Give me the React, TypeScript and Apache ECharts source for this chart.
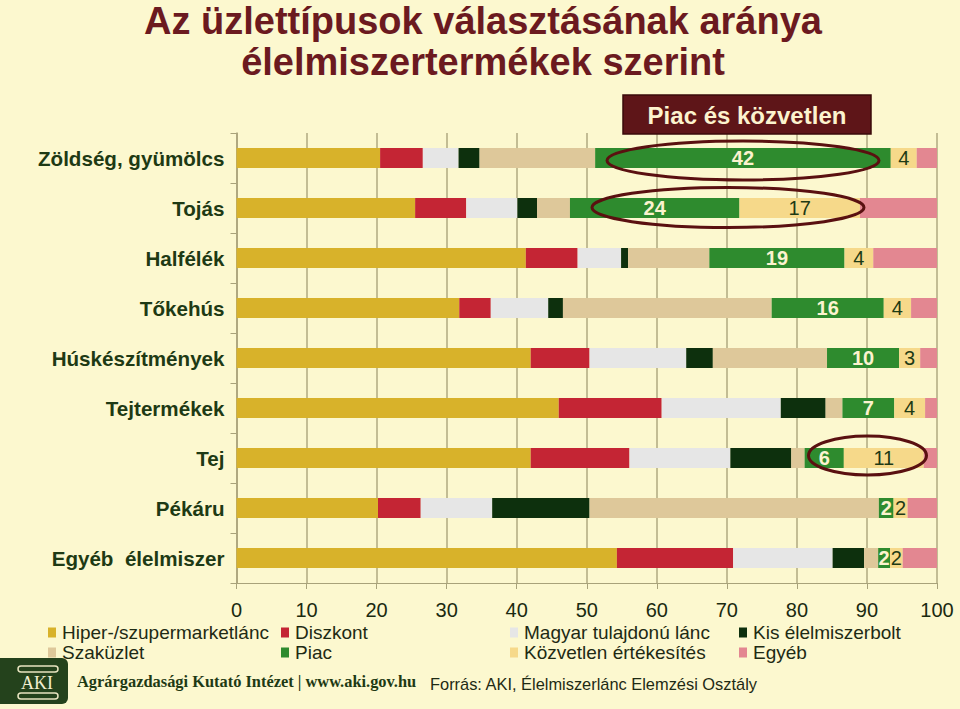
import React, { useEffect, useRef } from "react";
import * as echarts from "echarts";

const categories = [
  "Zöldség, gyümölcs",
  "Tojás",
  "Halfélék",
  "Tőkehús",
  "Húskészítmények",
  "Tejtermékek",
  "Tej",
  "Pékáru",
  "Egyéb  élelmiszer",
];

const seriesNames = [
  "Hiper-/szupermarketlánc",
  "Diszkont",
  "Magyar tulajdonú lánc",
  "Kis élelmiszerbolt",
  "Szaküzlet",
  "Piac",
  "Közvetlen értékesítés",
  "Egyéb",
];

const hiper = [20.5, 25.5, 41.3, 31.8, 42.0, 46.0, 42.0, 20.2, 54.3];
const diszkont = [6.1, 7.3, 7.4, 4.5, 8.4, 14.7, 14.1, 6.1, 16.6];
const magyar = [5.1, 7.3, 6.2, 8.2, 13.8, 17.0, 14.4, 10.2, 14.2];
const kis = [3.0, 2.8, 1.0, 2.1, 3.8, 6.4, 8.7, 13.9, 4.5];
const szakuzlet = [16.5, 4.7, 11.6, 29.8, 16.3, 2.4, 1.9, 41.3, 2.0];
const piac = [42.2, 24.2, 19.3, 16.0, 10.3, 7.4, 5.6, 2.1, 1.7];
const kozvetlen = [3.7, 17.2, 4.1, 3.9, 3.0, 4.4, 11.4, 2.0, 1.8];
const egyeb = [2.9, 11.0, 9.1, 3.7, 2.4, 1.7, 1.9, 4.2, 4.9];

const xTicks = [0, 10, 20, 30, 40, 50, 60, 70, 80, 90, 100];

const colors = [
  "#D8B22A",
  "#C42534",
  "#E6E6E6",
  "#0D300D",
  "#DEC89A",
  "#2E8B2E",
  "#F6D98A",
  "#E38791",
];

const BG = "#FCF8CF";
const DARK = "#1E3A14";
const MAROON = "#6B1A1F";
const SANS = "Liberation Sans, Arial, sans-serif";

export default function App() {
  const ref = useRef<HTMLDivElement>(null);
  useEffect(() => {
    if (!ref.current) return;
    const chart = echarts.init(ref.current, undefined, { renderer: "svg" });
    const values = [hiper, diszkont, magyar, kis, szakuzlet, piac, kozvetlen, egyeb];
    const series = seriesNames.map((name, i) => {
      const s: any = {
        name,
        type: "bar",
        stack: "total",
        data: values[i],
        barCategoryGap: "60%",
        itemStyle: { color: colors[i] },
        emphasis: { disabled: true },
        label: { show: false },
      };
      if (i === 5) {
        s.label = {
          show: true,
          position: "inside",
          color: "#FCF3CE",
          fontSize: 20,
          fontWeight: "bold",
          fontFamily: SANS,
          formatter: (p: any) => String(Math.round(p.value)),
        };
      }
      if (i === 6) {
        s.label = {
          show: true,
          position: "inside",
          color: DARK,
          fontSize: 20,
          fontFamily: SANS,
          formatter: (p: any) => String(Math.round(p.value)),
        };
      }
      return s;
    });

    const legendCols = [
      { left: 48, items: [seriesNames[0], seriesNames[4]] },
      { left: 281, items: [seriesNames[1], seriesNames[5]] },
      { left: 510, items: [seriesNames[2], seriesNames[6]] },
      { left: 739, items: [seriesNames[3], seriesNames[7]] },
    ];

    chart.setOption({
      animation: false,
      backgroundColor: BG,
      textStyle: { fontFamily: SANS },
      title: {
        text: "Az üzlettípusok választásának aránya\nélelmiszertermékek szerint",
        left: 483,
        textAlign: "center",
        top: 0,
        padding: 0,
        textStyle: {
          fontSize: 38,
          fontWeight: "bold",
          color: MAROON,
          lineHeight: 41,
          fontFamily: SANS,
        },
      },
      legend: legendCols.map((c) => ({
        orient: "vertical",
        left: c.left,
        top: 623,
        padding: 0,
        itemWidth: 8,
        itemHeight: 10,
        itemGap: 1,
        icon: "rect",
        selectedMode: false,
        data: c.items,
        textStyle: {
          fontSize: 19,
          color: "#1E2A14",
          padding: [0, 0, 0, 1],
          fontFamily: SANS,
        },
      })),
      grid: { left: 236.5, right: 23, top: 133, bottom: 126, containLabel: false },
      xAxis: {
        type: "value",
        min: xTicks[0],
        max: xTicks[xTicks.length - 1],
        interval: 10,
        axisLine: { show: true, lineStyle: { color: "#A8A27A", width: 1 } },
        axisTick: { show: true, length: 6, lineStyle: { color: "#A8A27A" } },
        splitLine: { show: true, lineStyle: { color: "#B0AA80", width: 1.5 } },
        axisLabel: { fontSize: 20, color: "#1A2A10", margin: 17 },
      },
      yAxis: {
        type: "category",
        data: categories,
        inverse: true,
        axisLine: { show: true, lineStyle: { color: "#A8A27A", width: 1.5 } },
        axisTick: { show: true, length: 6, lineStyle: { color: "#A8A27A" } },
        axisLabel: {
          fontSize: 20.6,
          fontWeight: "bold",
          color: DARK,
          margin: 12,
        },
      },
      series,
      graphic: [
        {
          type: "rect",
          shape: { x: 623, y: 95, width: 248, height: 39 },
          style: { fill: "#5E1518", stroke: "#3A0A0A", lineWidth: 1.5 },
          z: 100,
        },
        {
          type: "text",
          x: 747,
          y: 115,
          style: {
            text: "Piac és közvetlen",
            fill: "#FCF3CE",
            fontSize: 24,
            fontWeight: "bold",
            fontFamily: SANS,
            textAlign: "center",
            textVerticalAlign: "middle",
          },
          z: 101,
        },
        {
          type: "ellipse",
          shape: { cx: 743, cy: 160.5, rx: 136, ry: 19.5 },
          style: { fill: "none", stroke: "#5A1010", lineWidth: 3 },
          z: 100,
        },
        {
          type: "ellipse",
          shape: { cx: 728, cy: 207.5, rx: 136, ry: 20 },
          style: { fill: "none", stroke: "#5A1010", lineWidth: 3 },
          z: 100,
        },
        {
          type: "ellipse",
          shape: { cx: 867.5, cy: 455.5, rx: 59, ry: 19.5 },
          style: { fill: "none", stroke: "#5A1010", lineWidth: 3 },
          z: 100,
        },
        {
          type: "rect",
          shape: { x: -8, y: 658, width: 76, height: 46, r: 6 },
          style: { fill: "#24421C" },
          z: 100,
        },
        {
          type: "rect",
          shape: { x: 18, y: 666, width: 40, height: 6, r: 3 },
          style: { fill: "none", stroke: "#E8E4C0", lineWidth: 1.5 },
          z: 101,
        },
        {
          type: "text",
          x: 37,
          y: 683,
          style: {
            text: "AKI",
            fill: "#F2EED0",
            fontSize: 18,
            fontFamily: "Liberation Serif, DejaVu Serif, serif",
            textAlign: "center",
            textVerticalAlign: "middle",
          },
          z: 101,
        },
        {
          type: "rect",
          shape: { x: 18, y: 693, width: 40, height: 6, r: 3 },
          style: { fill: "none", stroke: "#E8E4C0", lineWidth: 1.5 },
          z: 101,
        },
        {
          type: "text",
          x: 77,
          y: 681,
          style: {
            text: "Agrárgazdasági Kutató Intézet | www.aki.gov.hu",
            fill: "#1E3A14",
            fontSize: 16.4,
            fontWeight: "bold",
            fontFamily: "Liberation Serif, DejaVu Serif, serif",
            textVerticalAlign: "middle",
          },
          z: 101,
        },
        {
          type: "text",
          x: 430,
          y: 684,
          style: {
            text: "Forrás: AKI, Élelmiszerlánc Elemzési Osztály",
            fill: "#1E2A14",
            fontSize: 16.4,
            fontFamily: SANS,
            textVerticalAlign: "middle",
          },
          z: 101,
        },
      ],
    });
    return () => chart.dispose();
  }, []);
  return (
    <div
      ref={ref}
      style={{ position: "fixed", left: 0, top: 0, width: 960, height: 709 }}
    />
  );
}
